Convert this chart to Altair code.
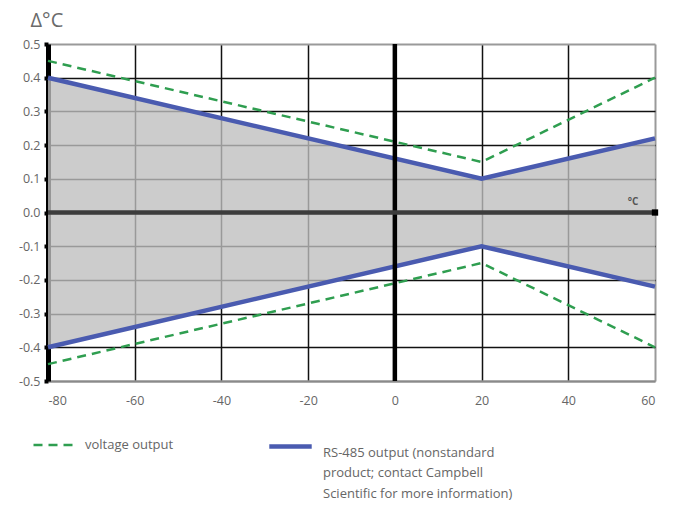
import altair as alt
import pandas as pd

temps = [-80, 20, 60]
voltage_upper = [0.45, 0.15, 0.40]
voltage_lower = [-0.45, -0.15, -0.40]
rs485_upper = [0.40, 0.10, 0.22]
rs485_lower = [-0.40, -0.10, -0.22]
series_names = [
    "voltage output",
    "RS-485 output (nonstandard\nproduct; contact Campbell\nScientific for more information)",
]
x_ticks = [-80, -60, -40, -20, 0, 20, 40, 60]
y_ticks = [-0.5, -0.4, -0.3, -0.2, -0.1, 0.0, 0.1, 0.2, 0.3, 0.4, 0.5]
y_title = "Δ°C"
x_unit = "°C"

rows = []
for name, branch, vals in [
    (series_names[0], "upper", voltage_upper),
    (series_names[0], "lower", voltage_lower),
    (series_names[1], "upper", rs485_upper),
    (series_names[1], "lower", rs485_lower),
]:
    for t, v in zip(temps, vals):
        rows.append({"series": name, "branch": branch, "t": t, "v": v})
lines_df = pd.DataFrame(rows)
area_df = pd.DataFrame({"t": temps, "lo": rs485_lower, "hi": rs485_upper})

FONT = "Open Sans"
LABEL = "#666666"
GREEN = "#2f9e50"
BLUE = "#4a5bb0"

xscale = alt.Scale(domain=[-80, 60], nice=False, zero=False)
yscale = alt.Scale(domain=[-0.5, 0.5], nice=False, zero=False)

grid_color = {"condition": {"test": "datum.value == 60", "value": "#9a9a9a"}, "value": "#111111"}
grid_width = {"condition": {"test": "datum.value == 60", "value": 2}, "value": 1.5}
ygrid_color = {"condition": {"test": "abs(datum.value) > 0.49", "value": "#9a9a9a"}, "value": "#111111"}
ygrid_width = {"condition": {"test": "abs(datum.value) > 0.49", "value": 2}, "value": 1.5}
fix_minus = "replace(datum.label, '\u2212', '-')"

x_axis = alt.Axis(
    values=x_ticks, grid=True, gridColor=grid_color, gridWidth=grid_width,
    ticks=False, domainColor="#8a8a8a", domainWidth=2, labelPadding=13,
    labelFont=FONT, labelFontSize=12.5, labelColor=LABEL, title=None,
    labelExpr=fix_minus, labelOverlap=False,
)
y_axis = alt.Axis(
    values=y_ticks, grid=True, gridColor=ygrid_color, gridWidth=ygrid_width,
    format=".1f", labelExpr=fix_minus, labelOverlap=False,
    ticks=True, tickSize=4, tickWidth=4, tickColor="black",
    domainColor="black", domainWidth=5, labelPadding=4,
    labelFont=FONT, labelFontSize=12.5, labelColor=LABEL,
    title=y_title, titleAngle=0, titleAlign="left", titleBaseline="alphabetic",
    titleX=-18, titleY=-18, titleFont=FONT, titleFontSize=20,
    titleFontWeight="normal", titleColor="#6a6a6a",
)


def X(field):
    return alt.X(field, scale=xscale, axis=x_axis)


def Y(field):
    return alt.Y(field, scale=yscale, axis=y_axis)


area = alt.Chart(area_df).mark_area(color="#bebebe", opacity=0.79).encode(
    x=X("t:Q"), y=Y("lo:Q"), y2="hi:Q",
)

rs_legend = alt.Legend(
    title=None, values=[series_names[1]], labelExpr="split(datum.label, '\\n')",
    orient="none", legendX=219, legendY=379, symbolType="stroke", symbolSize=1800,
    symbolStrokeWidth=4.5, labelBaseline="top", labelOffset=9,
)
v_legend = alt.Legend(
    title=None,
    orient="none", legendX=-16, legendY=377, symbolType="stroke", symbolSize=2025,
    symbolStrokeWidth=2.5, symbolStrokeColor=GREEN,
    labelBaseline="middle", labelOffset=5,
)

lines = alt.Chart(lines_df).mark_line().encode(
    x=X("t:Q"), y=Y("v:Q"),
    color=alt.Color("series:N", legend=rs_legend,
                    scale=alt.Scale(domain=series_names, range=[GREEN, BLUE])),
    strokeDash=alt.StrokeDash("series:N", legend=v_legend,
                              scale=alt.Scale(domain=series_names[:1], range=[[9, 6]])),
    strokeWidth=alt.StrokeWidth("series:N", legend=None,
                                scale=alt.Scale(domain=series_names, range=[2.5, 4.5])),
    detail="branch:N",
    order="t:Q",
)

zero_x = alt.Chart(pd.DataFrame({"t": [0]})).mark_rule(color="black", strokeWidth=4.5).encode(
    x=X("t:Q")
)
zero_y = alt.Chart(pd.DataFrame({"v": [0.0]})).mark_rule(color="#3c3c3c", strokeWidth=4.5).encode(
    y=Y("v:Q")
)
zero_end = alt.Chart(pd.DataFrame({"t": [60], "v": [0.0]})).mark_square(
    color="black", opacity=1, size=40
).encode(x=X("t:Q"), y=Y("v:Q"))
unit = alt.Chart(pd.DataFrame({"t": [60], "v": [0.0], "label": [x_unit]})).mark_text(
    font=FONT, fontSize=10, fontWeight="bold", color="#555555", dx=-22, dy=-11
).encode(x=X("t:Q"), y=Y("v:Q"), text="label:N")

chart = alt.layer(area, lines, zero_x, zero_y, zero_end, unit).properties(
    width=607, height=337,
    autosize=alt.AutoSizeParams(type="none"),
    padding={"left": 40, "top": 36, "right": 10, "bottom": 121},
).configure(
    style={"guide-label": {"lineHeight": 20.5}}
).configure_view(stroke=None).configure_axis(labelOverlap=False).configure_legend(
    labelFont=FONT, labelFontSize=13, labelColor="#666666", labelLimit=400,
)

chart.save("out.html", embed_options={"renderer": "svg", "actions": False})
